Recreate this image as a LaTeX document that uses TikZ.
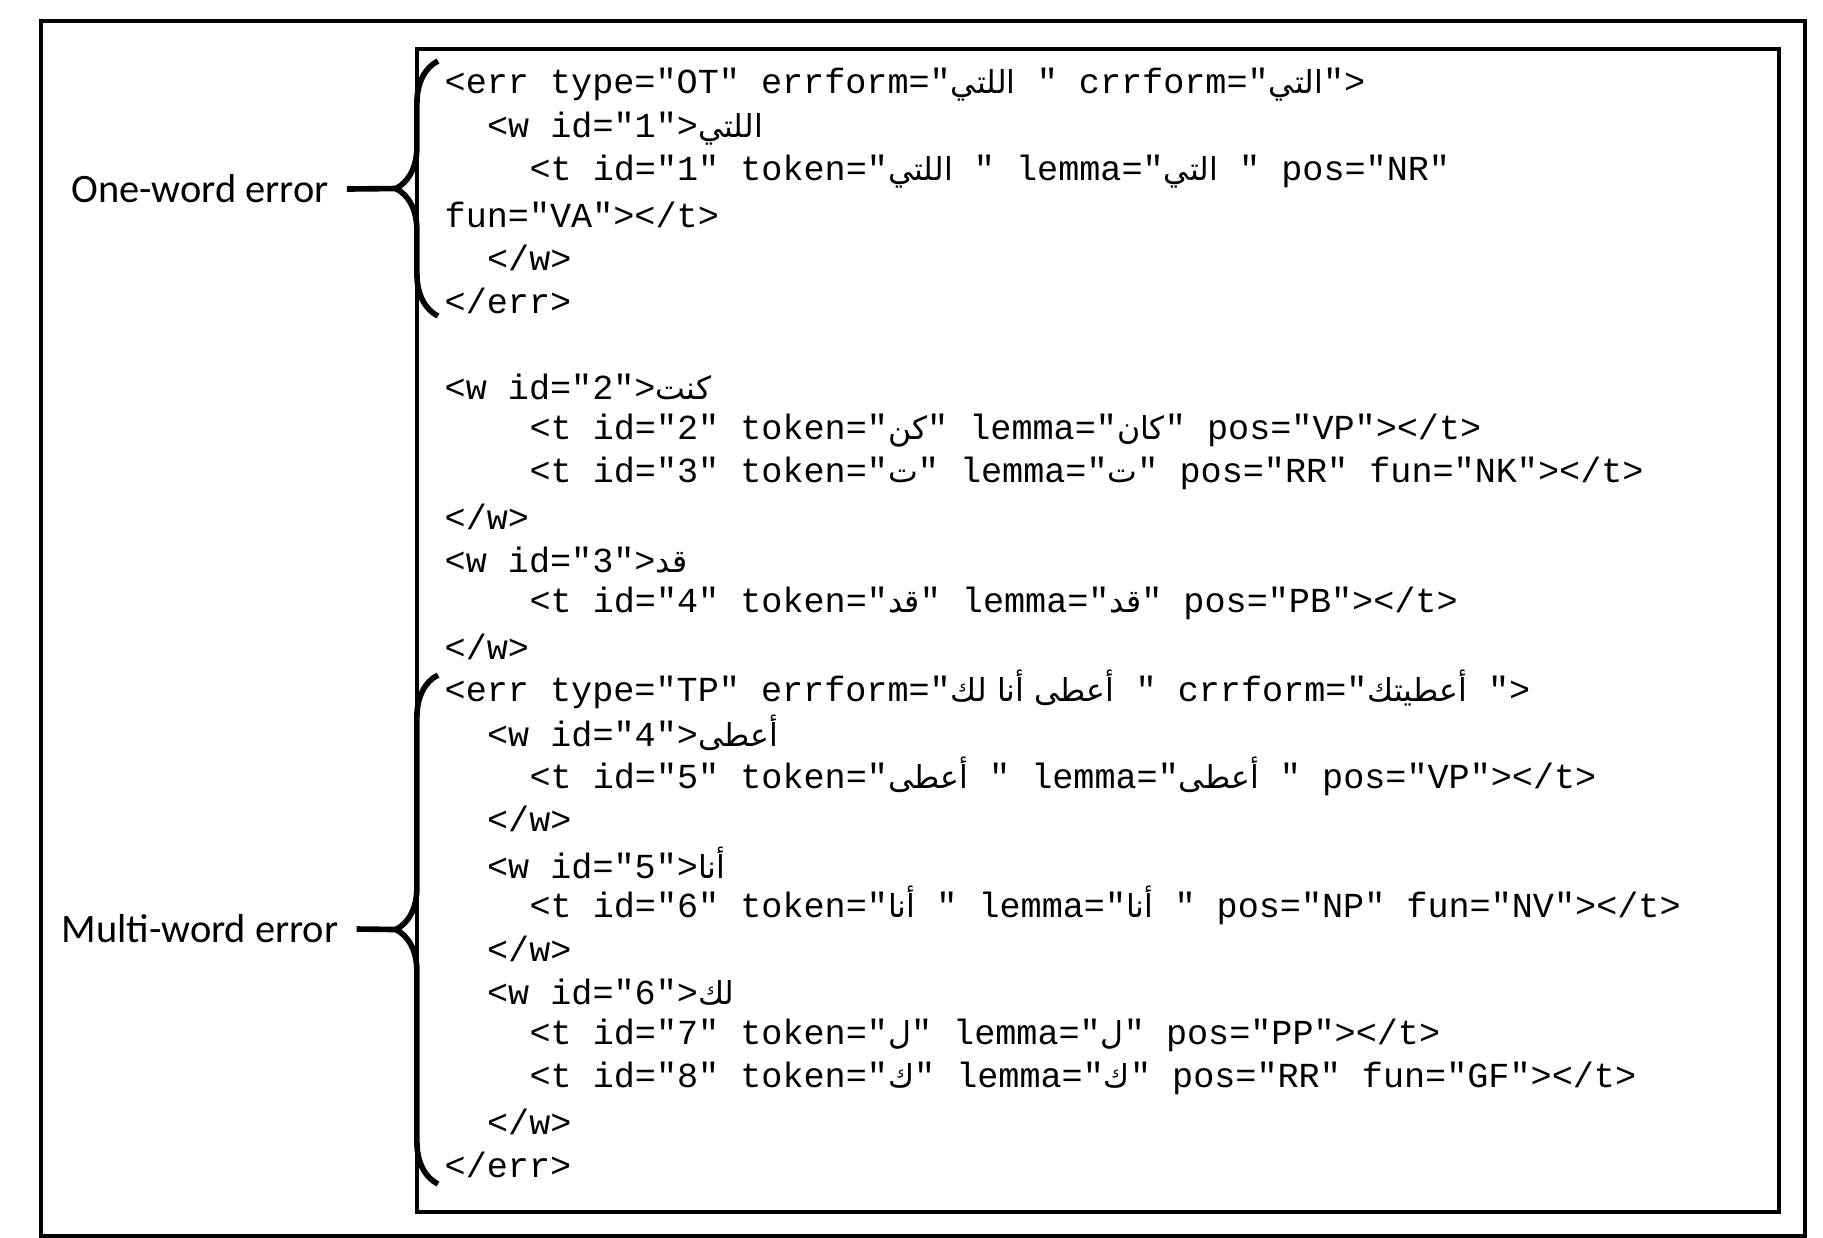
\documentclass[tikz,border=0pt]{standalone}
\usepackage{fontspec}
\setmonofont{Liberation Mono}
\newfontfamily\labelfont{Carlito}
\newfontfamily\arabicfont[Script=Arabic]{DejaVu Sans}
\TeXXeTstate=1
\usetikzlibrary{decorations.pathreplacing}
\newcommand\AR[1]{{\arabicfont\fontsize{9}{11}\selectfont\beginR #1\endR}}
\newcommand\codeline[3]{\node[codetext] (l#1) at ({4.44+#2*0.212},{-0.85-(#1-1)*0.432}) {#3};}

\begin{document}
\begin{tikzpicture}[codetext/.style={anchor=west,inner sep=0pt,
                      font=\ttfamily\fontsize{10}{12}\selectfont},
                    tag/.style={font=\labelfont\fontsize{11.5}{13}\selectfont,inner sep=1pt},
                    bracemark/.style={decorate,decoration={brace,amplitude=12pt},line width=1.6pt}]

  \useasboundingbox (0,0) rectangle (18.23,-12.37);
  \draw[line width=1.2pt] (0.41,-0.21) rectangle (18.05,-12.36);
  \draw[line width=1pt]   (4.17,-0.49) rectangle (17.79,-12.12);

  % code lines
  \codeline{1}{0}{<err type="OT" errform="\AR{اللتي} " crrform="\AR{التي}">}
  \codeline{2}{2}{<w id="1">\AR{اللتي}}
  \codeline{3}{4}{<t id="1" token="\AR{اللتي} " lemma="\AR{التي} " pos="NR"}
  \codeline{4}{0}{fun="VA"></t>}
  \codeline{5}{2}{</w>}
  \codeline{6}{0}{</err>}
  \codeline{8}{0}{<w id="2">\AR{كنت}}
  \codeline{9}{4}{<t id="2" token="\AR{كن}" lemma="\AR{كان}" pos="VP"></t>}
  \codeline{10}{4}{<t id="3" token="\AR{ت}" lemma="\AR{ت}" pos="RR" fun="NK"></t>}
  \codeline{11}{0}{</w>}
  \codeline{12}{0}{<w id="3">\AR{قد}}
  \codeline{13}{4}{<t id="4" token="\AR{قد}" lemma="\AR{قد}" pos="PB"></t>}
  \codeline{14}{0}{</w>}
  \codeline{15}{0}{<err type="TP" errform="\AR{أعطى أنا لك} " crrform="\AR{أعطيتك} ">}
  \codeline{16}{2}{<w id="4">\AR{أعطى}}
  \codeline{17}{4}{<t id="5" token="\AR{أعطى} " lemma="\AR{أعطى} " pos="VP"></t>}
  \codeline{18}{2}{</w>}
  \codeline{19}{2}{<w id="5">\AR{أنا}}
  \codeline{20}{4}{<t id="6" token="\AR{أنا} " lemma="\AR{أنا} " pos="NP" fun="NV"></t>}
  \codeline{21}{2}{</w>}
  \codeline{22}{2}{<w id="6">\AR{لك}}
  \codeline{23}{4}{<t id="7" token="\AR{ل}" lemma="\AR{ل}" pos="PP"></t>}
  \codeline{24}{4}{<t id="8" token="\AR{ك}" lemma="\AR{ك}" pos="RR" fun="GF"></t>}
  \codeline{25}{2}{</w>}
  \codeline{26}{0}{</err>}

  % braces and labels
  \coordinate (b1top) at (4.38,-0.61);
  \coordinate (b1bot) at (4.38,-3.16);
  \coordinate (b2top) at (4.38,-6.75);
  \coordinate (b2bot) at (4.38,-11.84);
  \draw[bracemark] (b1bot) -- (b1top) coordinate[pos=0.5] (b1mid);
  \draw[bracemark] (b2bot) -- (b2top) coordinate[pos=0.5] (b2mid);
  \coordinate (tip1) at ([xshift=-12pt]b1mid);
  \coordinate (tip2) at ([xshift=-12pt]b2mid);

  \node[tag] (one)   at (2.00,-1.89) {One-word error};
  \node[tag] (multi) at (2.00,-9.29) {Multi-word error};
  \draw[line width=1.6pt] ([xshift=4pt]one.east) -- (tip1);
  \draw[line width=1.6pt] ([xshift=4pt]multi.east) -- (tip2);
\end{tikzpicture}
\end{document}
